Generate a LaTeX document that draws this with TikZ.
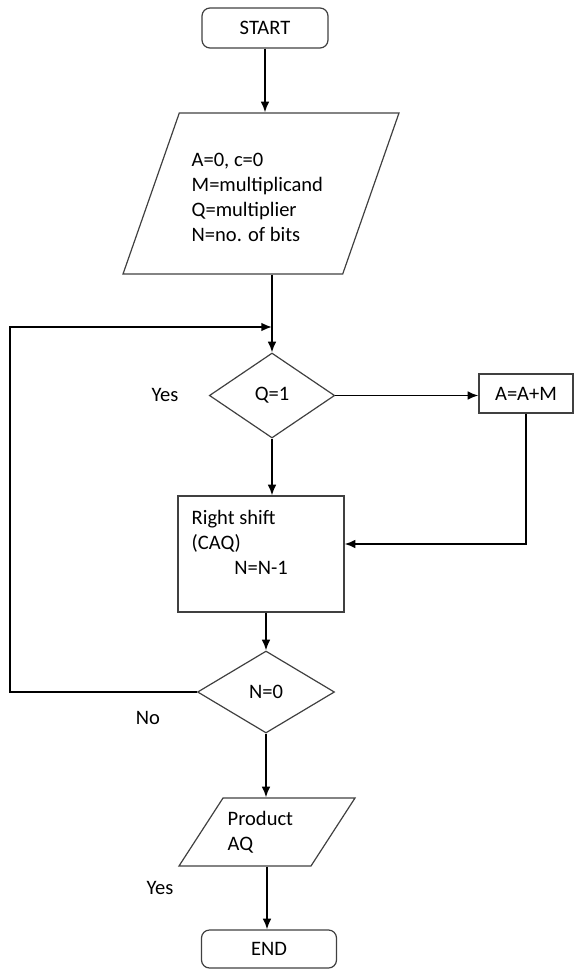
\documentclass[tikz,border=0pt]{standalone}
\usepackage{fontspec}
\setmainfont{Carlito}
\usepackage{tikz}
\usetikzlibrary{shapes.geometric}
\usetikzlibrary{arrows.meta}

\begin{document}
\begin{tikzpicture}[x=0.75pt, y=-0.75pt,
		font=\fontsize{15.4}{18.75}\selectfont,
		box/.style={draw=black!75, line width=0.9pt, inner sep=2pt},
		term/.style={box, rectangle, rounded corners=6pt},
		io/.style={box, trapezium, trapezium stretches=true},
		test/.style={box, diamond},
		arr/.style={black, line width=1.3pt, -{Latex[length=8pt, width=6.5pt]}}]
		\useasboundingbox (0,0) rectangle (574,970);
		% boxes
		\node[term, minimum width=94.5pt, minimum height=30pt] (start) at (265,28) {START};
		\node[io, trapezium left angle=71, trapezium right angle=109, minimum width=207pt, minimum height=120.75pt] (init) at (261,193.5) {};
		\node[anchor=west, align=left] (inittxt) at (187,197.5) {A=0, c=0\\M=multiplicand\\Q=multiplier\\N=no. of bits};
		\node[test, minimum width=94pt, minimum height=63.75pt] (q1) at (272,395.5) {Q=1};
		\node[box, rectangle, minimum width=70.5pt, minimum height=29.25pt] (add) at (526,393.5) {A=A+M};
		\node[box, rectangle, minimum width=124.5pt, minimum height=87pt] (shift) at (261,554) {};
		\node[anchor=west, align=left] (shifttxt) at (187,542) {Right shift\\(CAQ)\\\hspace*{32pt}N=N-1};
		\node[test, minimum width=102.75pt, minimum height=61.5pt] (n0) at (266,692) {N=0};
		\node[io, trapezium left angle=63.4, trapezium right angle=116.6, minimum width=132pt, minimum height=51pt] (out) at (267,832) {};
		\node[anchor=west, align=left] (outtxt) at (223,832) {Product\\AQ};
		\node[term, minimum width=101.25pt, minimum height=28.5pt] (stop) at (269,949) {END};
		% branch labels
		\node (yes1) at (165,395) {Yes};
		\node (no) at (148,718) {No};
		\node (yes2) at (160,888) {Yes};
		% connectors
		\coordinate (join) at (272,327);
		\coordinate (corner) at (10,327);
		\draw[arr] (start) -- (start |- init.north);
		\draw[arr] (q1 |- init.south) -- (q1.north);
		\draw[arr] (q1.east) -- (q1.east -| add.west);
		\draw[arr] (q1.south) -- (q1.south |- shift.north);
		\draw[arr] (add.south) |- ([yshift=7.5pt]shift.east);
		\draw[arr] (n0.north |- shift.south) -- (n0.north);
		\draw[arr] (n0.west) -| (corner) -- (join);
		\draw[arr] (n0.south) -- (n0.south |- out.north);
		\draw[arr] (out.south) -- (out.south |- stop.north);
\end{tikzpicture}
\end{document}
